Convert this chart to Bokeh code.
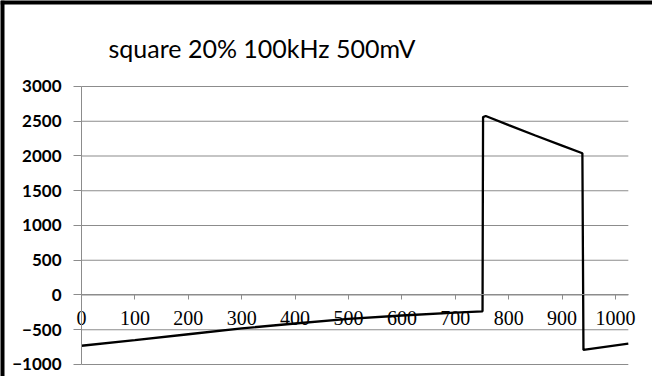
from bokeh.plotting import figure
from bokeh.models import Range1d, FixedTicker, Span, Label
from bokeh.embed import file_html
from bokeh.resources import INLINE

# sample index and measured value
sample = [0, 100, 200, 300, 400, 500, 600, 700, 751, 752, 757, 800, 850, 900, 938, 940, 1024]
level = [-730, -650, -565, -480, -410, -345, -295, -255, -235, 2560, 2575, 2445, 2295, 2150, 2040, -790, -700]

x_ticks = [0, 100, 200, 300, 400, 500, 600, 700, 800, 900, 1000]
y_ticks = [-1000, -500, 0, 500, 1000, 1500, 2000, 2500, 3000]
x_min, x_max = 0, 1024
y_min, y_max = -1000, 3000
title_text = "square 20% 100kHz 500mV"

# visible window (chart area incl. margins around the axes)
view_x = (-151.7, 1069.3)
view_y = (-1172.7, 4237.4)

p = figure(width=652, height=376, output_backend="svg", toolbar_location=None,
           x_range=Range1d(*view_x), y_range=Range1d(*view_y),
           min_border_left=0, min_border_right=0, min_border_top=0, min_border_bottom=0)

p.outline_line_color = None
p.background_fill_color = "white"
p.border_fill_color = "white"
p.grid.visible = False

# chart border (top and left edges)
p.add_layout(Span(location=view_x[0], dimension="height", line_color="black", line_width=8))
p.add_layout(Span(location=view_y[1], dimension="width", line_color="black", line_width=8))

# title
p.add_layout(Label(x=50.6, y=3561, text=title_text, text_font="Lato", text_font_size="25px",
                   text_baseline="alphabetic", text_align="left", text_color="black"))

# horizontal gridlines between the axis bounds
p.segment(x0=x_min, x1=x_max, y0=y_ticks, y1=y_ticks, line_color="#8c8c8c", line_width=1.2)

xa = p.xaxis[0]
xa.fixed_location = 0
xa.bounds = (x_min, x_max)
xa.ticker = FixedTicker(ticks=x_ticks)
xa.axis_line_color = "#8c8c8c"
xa.major_tick_line_color = "#8c8c8c"
xa.major_tick_out = 5
xa.major_tick_in = 0
xa.minor_tick_line_color = None
xa.major_label_text_font = "Liberation Serif"
xa.major_label_text_font_size = "20px"
xa.major_label_text_color = "black"
xa.major_label_standoff = 11

ya = p.yaxis[0]
ya.fixed_location = 0
ya.bounds = (y_min, y_max)
ya.ticker = FixedTicker(ticks=y_ticks)
ya.axis_line_color = "#8c8c8c"
ya.major_tick_line_color = "#8c8c8c"
ya.major_tick_out = 8
ya.major_tick_in = 0
ya.minor_tick_line_color = None
ya.major_label_text_font = "Lato"
ya.major_label_text_font_style = "bold"
ya.major_label_text_font_size = "17px"
ya.major_label_text_color = "black"
ya.major_label_standoff = 12

p.line(sample, level, line_color="black", line_width=2.3)

open("out.html", "w").write(file_html(p, INLINE))
